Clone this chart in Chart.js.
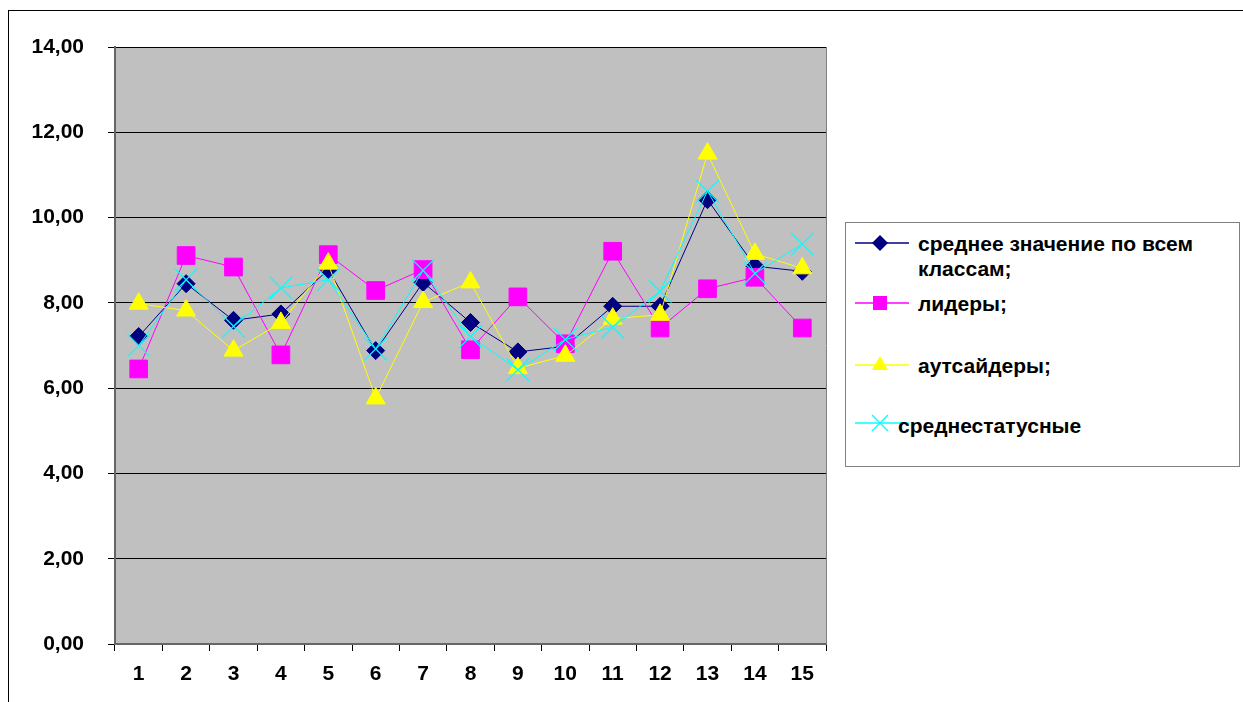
<!DOCTYPE html>
<html><head><meta charset="utf-8">
<script src="https://cdn.jsdelivr.net/npm/chart.js@4.4.1/dist/chart.umd.min.js"></script>
<style>
html,body{margin:0;padding:0;background:#fff;overflow:hidden;}
#wrap{position:relative;width:1243px;height:702px;overflow:hidden;}
#frame{position:absolute;left:8px;top:10px;width:1300px;height:800px;border:1px solid #000;box-sizing:border-box;}
#c{position:absolute;left:0;top:0;}
#legend{position:absolute;left:845px;top:222px;width:395px;height:245px;border:1px solid #808080;box-sizing:border-box;background:#fff;font:bold 21px "Liberation Sans",Arial,sans-serif;color:#000;}
.mk{position:absolute;left:9px;}
.tx{position:absolute;line-height:25px;white-space:normal;width:300px;}
</style></head>
<body>
<div id="wrap">
<div id="frame"></div>
<canvas id="c" width="1243" height="702"></canvas>
<div id="legend"></div>
</div>
<script>
const categories = ['1','2','3','4','5','6','7','8','9','10','11','12','13','14','15'];
const seriesNames = ['среднее значение по всем классам;', 'лидеры;', 'аутсайдеры;', 'среднестатусные'];
const avgAll    = [7.21, 8.45, 7.59, 7.74, 8.78, 6.88, 8.48, 7.54, 6.85, 6.98, 7.92, 7.92, 10.42, 8.86, 8.74];
const leaders   = [6.45, 9.11, 8.84, 6.78, 9.13, 8.29, 8.78, 6.90, 8.14, 7.04, 9.21, 7.41, 8.33, 8.60, 7.41];
const outsiders = [7.98, 7.82, 6.88, 7.53, 8.92, 5.76, 8.02, 8.48, 6.47, 6.76, 7.63, 7.72, 11.50, 9.15, 8.81];
const midStatus = [7.00, 8.54, 7.45, 8.35, 8.54, 6.92, 8.76, 7.21, 6.43, 7.14, 7.43, 8.27, 10.62, 8.69, 9.38];
const yTickValues = [0, 2, 4, 6, 8, 10, 12, 14];

const seriesData = [avgAll, leaders, outsiders, midStatus];
const colors = ['#000080', '#FF00FF', '#FFFF00', '#00FFFF'];
const styles = ['rectRot', 'rect', 'triangle', 'crossRot'];
const radii = [9, 12.5, 11, 16];

const FONT = {family: '"Liberation Sans", Arial, sans-serif', size: 21, weight: 'bold'};

const bgPlugin = {
  id: 'bg',
  beforeDraw(chart) {
    const a = chart.chartArea, ctx = chart.ctx;
    ctx.save();
    ctx.fillStyle = '#C0C0C0';
    ctx.fillRect(a.left, a.top, a.right - a.left, a.bottom - a.top);
    ctx.restore();
  },
  beforeDatasetsDraw(chart) {
    const a = chart.chartArea, ctx = chart.ctx;
    ctx.save();
    ctx.strokeStyle = '#808080';
    ctx.lineWidth = 1;
    ctx.beginPath();
    ctx.moveTo(a.right + 0.5, a.top);
    ctx.lineTo(a.right + 0.5, a.bottom);
    ctx.stroke();
    ctx.restore();
  }
};

const datasets = seriesData.map((d, i) => ({
  label: seriesNames[i],
  data: d,
  borderColor: colors[i],
  backgroundColor: colors[i],
  borderWidth: 1,
  pointStyle: styles[i],
  pointRadius: radii[i],
  pointHoverRadius: radii[i],
  pointBorderWidth: i === 3 ? 1.2 : 1,
  pointBackgroundColor: colors[i],
  pointBorderColor: colors[i],
  tension: 0,
  order: 4 - i
}));

new Chart(document.getElementById('c'), {
  type: 'line',
  data: {labels: categories, datasets},
  plugins: [bgPlugin],
  options: {
    responsive: false,
    animation: false,
    devicePixelRatio: 1,
    layout: {padding: {left: 0, top: 47, right: 417, bottom: 0}},
    plugins: {legend: {display: false}, tooltip: {enabled: false}},
    scales: {
      x: {
        type: 'category',
        offset: true,
        afterFit(s) { s.height = 58; },
        grid: {offset: true, drawOnChartArea: false, drawTicks: true, tickLength: 7, color: '#000'},
        border: {color: '#666', width: 2},
        ticks: {color: '#000', font: FONT, padding: 11, maxRotation: 0, autoSkip: false}
      },
      y: {
        min: 0, max: 14,
        afterFit(s) { s.width = 115; },
        afterBuildTicks(s) { s.ticks = yTickValues.map(v => ({value: v})); },
        grid: {color: '#000', lineWidth: 1, tickLength: 7, tickColor: '#000'},
        border: {color: '#666', width: 2},
        ticks: {color: '#000', font: FONT, padding: 24,
          callback: v => v.toFixed(2).replace('.', ',')}
      }
    }
  }
});

// HTML legend built from series arrays
function markerSvg(i) {
  const c = colors[i], cx = 25, cy = 12;
  let shape = '';
  if (styles[i] === 'rectRot') shape = `<polygon points="${cx},${cy-8} ${cx+8},${cy} ${cx},${cy+8} ${cx-8},${cy}" fill="${c}"/>`;
  else if (styles[i] === 'rect') shape = `<rect x="${cx-7}" y="${cy-7}" width="14" height="14" fill="${c}"/>`;
  else if (styles[i] === 'triangle') shape = `<polygon points="${cx},${cy-9} ${cx+8},${cy+5} ${cx-8},${cy+5}" fill="${c}"/>`;
  else shape = `<path d="M${cx-8},${cy-8}L${cx+8},${cy+8}M${cx+8},${cy-8}L${cx-8},${cy+8}" stroke="${c}" stroke-width="1.3"/>`;
  return `<svg width="54" height="24"><line x1="0" y1="${cy}" x2="54" y2="${cy}" stroke="${c}" stroke-width="1.5"/>${shape}</svg>`;
}
const legendLineY = [20, 80, 142, 200];
const legendTextY = [8, 68, 130, 190];
const legendTextX = [72, 72, 72, 52];
const lg = document.getElementById('legend');
seriesNames.forEach((name, i) => {
  const m = document.createElement('div');
  m.className = 'mk';
  m.style.top = (legendLineY[i] - 12) + 'px';
  m.innerHTML = markerSvg(i);
  lg.appendChild(m);
  const t = document.createElement('div');
  t.className = 'tx';
  t.style.top = legendTextY[i] + 'px';
  t.style.left = legendTextX[i] + 'px';
  t.textContent = name;
  lg.appendChild(t);
});
</script>
</body></html>
